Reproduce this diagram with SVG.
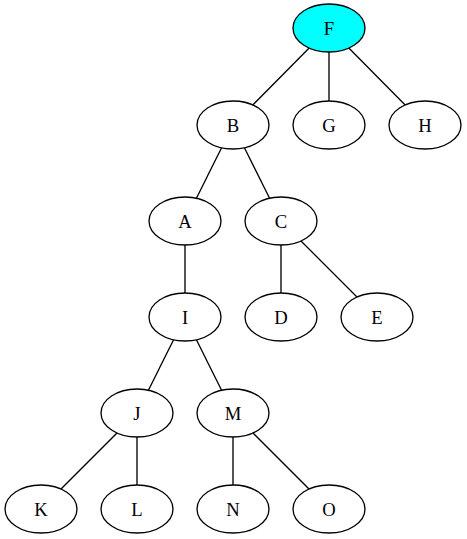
<svg xmlns="http://www.w3.org/2000/svg" width="467" height="539" viewBox="0 0 467 539">
<style>
.n ellipse{fill:#fff;stroke:#000;stroke-width:1.33}
.n text{font-family:"Liberation Serif","Times New Roman",serif;font-size:18.67px;text-anchor:middle;fill:#000}
#edges line{stroke:#000;stroke-width:1.33}
</style>
<rect width="467" height="539" fill="#fff"/>
<g id="edges">
<line x1="309.2" y1="48" x2="252.8" y2="105"/>
<line x1="329" y1="52" x2="329" y2="101"/>
<line x1="348.8" y1="48" x2="405.2" y2="105"/>
<line x1="221.6" y1="147.8" x2="196.4" y2="198.2"/>
<line x1="244.4" y1="147.8" x2="269.6" y2="198.2"/>
<line x1="185" y1="245" x2="185" y2="293"/>
<line x1="281" y1="245" x2="281" y2="293"/>
<line x1="301" y1="241" x2="357" y2="297"/>
<line x1="173.6" y1="339.8" x2="148.4" y2="390.2"/>
<line x1="196.4" y1="339.8" x2="221.6" y2="390.2"/>
<line x1="117" y1="433" x2="61" y2="489"/>
<line x1="137" y1="437" x2="137" y2="485"/>
<line x1="233" y1="437" x2="233" y2="485"/>
<line x1="253" y1="433" x2="309" y2="489"/>
</g>
<g id="F" class="n"><ellipse cx="329" cy="28" rx="36" ry="24" style="fill:#00ffff"/><text x="329" y="35">F</text></g>
<g id="B" class="n"><ellipse cx="233" cy="125" rx="36" ry="24"/><text x="233" y="132">B</text></g>
<g id="G" class="n"><ellipse cx="329" cy="125" rx="36" ry="24"/><text x="329" y="132">G</text></g>
<g id="H" class="n"><ellipse cx="425" cy="125" rx="36" ry="24"/><text x="425" y="132">H</text></g>
<g id="A" class="n"><ellipse cx="185" cy="221" rx="36" ry="24"/><text x="185" y="228">A</text></g>
<g id="C" class="n"><ellipse cx="281" cy="221" rx="36" ry="24"/><text x="281" y="228">C</text></g>
<g id="I" class="n"><ellipse cx="185" cy="317" rx="36" ry="24"/><text x="185" y="324">I</text></g>
<g id="D" class="n"><ellipse cx="281" cy="317" rx="36" ry="24"/><text x="281" y="324">D</text></g>
<g id="E" class="n"><ellipse cx="377" cy="317" rx="36" ry="24"/><text x="377" y="324">E</text></g>
<g id="J" class="n"><ellipse cx="137" cy="413" rx="36" ry="24"/><text x="137" y="420">J</text></g>
<g id="M" class="n"><ellipse cx="233" cy="413" rx="36" ry="24"/><text x="233" y="420">M</text></g>
<g id="K" class="n"><ellipse cx="41" cy="509" rx="36" ry="24"/><text x="41" y="516">K</text></g>
<g id="L" class="n"><ellipse cx="137" cy="509" rx="36" ry="24"/><text x="137" y="516">L</text></g>
<g id="N" class="n"><ellipse cx="233" cy="509" rx="36" ry="24"/><text x="233" y="516">N</text></g>
<g id="O" class="n"><ellipse cx="329" cy="509" rx="36" ry="24"/><text x="329" y="516">O</text></g>
</svg>
